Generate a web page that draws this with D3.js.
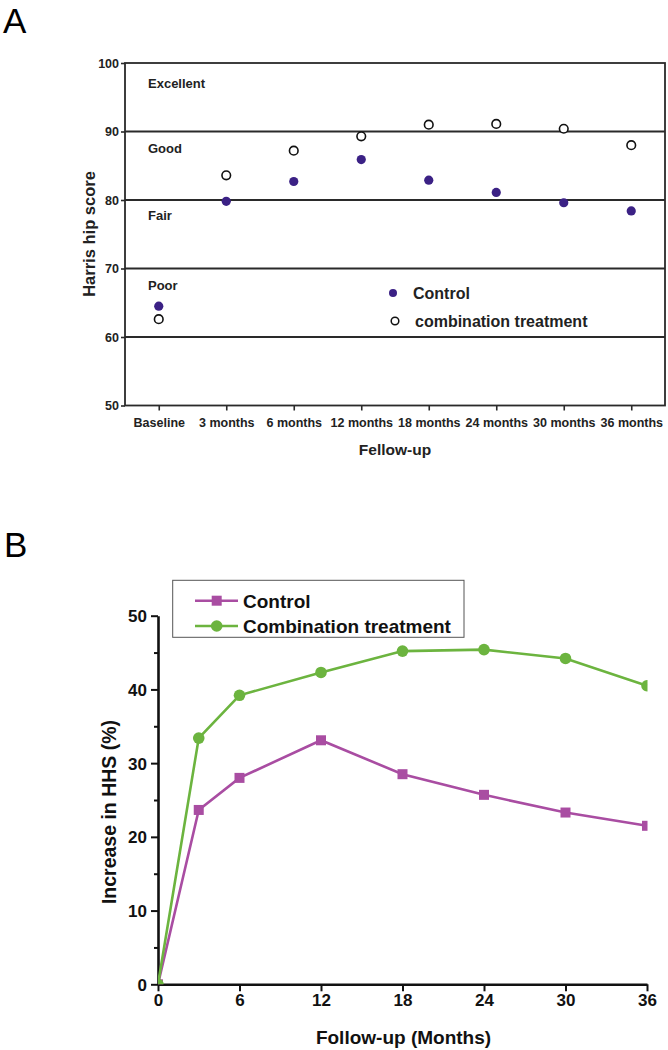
<!DOCTYPE html>
<html><head><meta charset="utf-8">
<script src="https://cdn.jsdelivr.net/npm/d3@7"></script>
<style>body{margin:0;background:#fff}svg{display:block;font-family:"Liberation Sans",Arial,sans-serif}</style>
</head><body><svg id="c" width="668" height="1050"></svg>
<script>
// ---------- Panel A data ----------
const catsA = ["Baseline","3 months","6 months","12 months","18 months","24 months","30 months","36 months"];
const controlA = [64.5,79.8,82.7,85.9,82.9,81.1,79.6,78.4];
const comboA = [62.6,83.6,87.2,89.3,91.0,91.1,90.4,88.0];
const yTicksA = [50,60,70,80,90,100];
const bandLinesA = [60,70,80,90];
const bandLabelsA = [{t:"Excellent",v:97.0},{t:"Good",v:87.5},{t:"Fair",v:77.8},{t:"Poor",v:67.5}];
// ---------- Panel B data ----------
const monthsB = [0,3,6,12,18,24,30,36];
const controlB = [0,23.65,28.0,33.1,28.5,25.7,23.3,21.5];
const comboB = [0,33.4,39.2,42.3,45.2,45.4,44.2,40.5];
const xTicksB = [0,6,12,18,24,30,36];
const yTicksB = [0,10,20,30,40,50];
const yMinorB = [5,15,25,35,45];

const svg = d3.select("#c");
const purple = "#3b2185", magenta = "#a94da2", green = "#6cb43f";

// Panel letters
svg.append("text").attr("x",3).attr("y",33).attr("font-family","'Liberation Sans',Arial,sans-serif").attr("font-size",35).text("A");
svg.append("text").attr("x",4).attr("y",557).attr("font-family","'Liberation Sans',Arial,sans-serif").attr("font-size",35).text("B");

// ---------- Panel A ----------
const xA = d3.scalePoint().domain(catsA).range([125,665]).padding(0.5);
const yA = d3.scaleLinear().domain([50,100]).range([405.5,63]);
const gA = svg.append("g");
gA.selectAll("line.band").data(bandLinesA).join("line").attr("class","band")
  .attr("x1",125).attr("x2",665).attr("y1",d=>yA(d)).attr("y2",d=>yA(d))
  .attr("stroke","#2a2a2a").attr("stroke-width",1.8);
gA.append("rect").attr("x",125).attr("y",yA(100)).attr("width",540).attr("height",yA(50)-yA(100))
  .attr("fill","none").attr("stroke","#2a2a2a").attr("stroke-width",1.8);
const axYA = gA.append("g").attr("transform","translate(125,0)")
  .call(d3.axisLeft(yA).tickValues(yTicksA).tickSize(4).tickSizeOuter(0).tickPadding(2));
const axXA = gA.append("g").attr("transform",`translate(0,${yA(50)})`)
  .call(d3.axisBottom(xA).tickSize(5).tickSizeOuter(0).tickPadding(8));
[axYA,axXA].forEach(a=>{
  a.select(".domain").remove();
  a.selectAll(".tick line").attr("stroke","#2a2a2a").attr("stroke-width",1.6);
  a.selectAll("text").attr("font-size",12.5).attr("font-weight","bold").attr("fill","#222").attr("font-family","'Liberation Sans',Arial,sans-serif");
});
axYA.selectAll("text").attr("dy","0.35em");
gA.selectAll("text.bl").data(bandLabelsA).join("text").attr("class","bl")
  .attr("x",148).attr("y",d=>yA(d.v)).attr("dy","0.35em")
  .attr("font-size",13).attr("font-weight","bold").attr("fill","#222").text(d=>d.t);
gA.selectAll("circle.ctl").data(controlA).join("circle").attr("class","ctl")
  .attr("cx",(d,i)=>xA(catsA[i])).attr("cy",d=>yA(d)).attr("r",4.6).attr("fill",purple);
gA.selectAll("circle.cmb").data(comboA).join("circle").attr("class","cmb")
  .attr("cx",(d,i)=>xA(catsA[i])).attr("cy",d=>yA(d)).attr("r",4.3).attr("fill","#fff").attr("stroke","#111").attr("stroke-width",1.6);
gA.append("circle").attr("cx",393).attr("cy",293).attr("r",4).attr("fill",purple);
gA.append("text").attr("x",413).attr("y",293).attr("dy","0.35em").attr("font-size",16).attr("font-weight","bold").attr("fill","#222").text("Control");
gA.append("circle").attr("cx",395).attr("cy",321).attr("r",3.8).attr("fill","#fff").attr("stroke","#111").attr("stroke-width",1.5);
gA.append("text").attr("x",415).attr("y",321).attr("dy","0.35em").attr("font-size",16).attr("font-weight","bold").attr("fill","#222").text("combination treatment");
gA.append("text").attr("x",395).attr("y",455).attr("text-anchor","middle").attr("font-size",15.5).attr("font-weight","bold").attr("fill","#222").text("Fellow-up");
gA.append("text").attr("transform","translate(95,234) rotate(-90)").attr("text-anchor","middle").attr("font-size",16.5).attr("font-weight","bold").attr("fill","#222").text("Harris hip score");

// ---------- Panel B ----------
const xB = d3.scaleLinear().domain([0,36]).range([158,647]);
const yB = d3.scaleLinear().domain([0,50]).range([984.3,615.7]);
const gB = svg.append("g");
svg.append("clipPath").attr("id","clipB").append("rect").attr("x",158).attr("y",590).attr("width",647.5-158).attr("height",984.3-590);
const axYB = gB.append("g").attr("transform","translate(158,0)")
  .call(d3.axisLeft(yB).tickValues(yTicksB).tickSize(7).tickSizeOuter(0).tickPadding(4));
const axXB = gB.append("g").attr("transform",`translate(0,${yB(0)})`)
  .call(d3.axisBottom(xB).tickValues(xTicksB).tickSize(7).tickSizeOuter(0).tickPadding(3));
gB.append("g").attr("transform","translate(158,0)")
  .call(d3.axisLeft(yB).tickValues(yMinorB).tickSize(4).tickFormat(""))
  .call(g=>{g.select(".domain").remove();g.selectAll("line").attr("stroke","#111").attr("stroke-width",2);});
[axYB,axXB].forEach(a=>{
  a.select(".domain").attr("stroke","#111").attr("stroke-width",2.6);
  a.selectAll(".tick line").attr("stroke","#111").attr("stroke-width",2);
  a.selectAll("text").attr("font-size",17).attr("font-weight","bold").attr("fill","#111").attr("font-family","'Liberation Sans',Arial,sans-serif");
});
axYB.selectAll("text").attr("dy","0.35em");
const plotB = gB.append("g").attr("clip-path","url(#clipB)");
const line = d3.line().x((d,i)=>xB(monthsB[i])).y(d=>yB(d));
plotB.append("path").datum(controlB).attr("d",line).attr("fill","none").attr("stroke",magenta).attr("stroke-width",2.6);
plotB.append("path").datum(comboB).attr("d",line).attr("fill","none").attr("stroke",green).attr("stroke-width",2.6);
plotB.selectAll("rect.sq").data(controlB).join("rect").attr("class","sq")
  .attr("x",(d,i)=>xB(monthsB[i])-5).attr("y",d=>yB(d)-5).attr("width",10).attr("height",10).attr("fill",magenta);
plotB.selectAll("circle.gc").data(comboB).join("circle").attr("class","gc")
  .attr("cx",(d,i)=>xB(monthsB[i])).attr("cy",d=>yB(d)).attr("r",5.8).attr("fill",green);
gB.append("rect").attr("x",172.7).attr("y",580.3).attr("width",464-172.7).attr("height",57).attr("fill","#fff").attr("stroke","#555").attr("stroke-width",1);
gB.append("line").attr("x1",195).attr("x2",238).attr("y1",600.7).attr("y2",600.7).attr("stroke",magenta).attr("stroke-width",2.6);
gB.append("rect").attr("x",216.7-5).attr("y",600.7-5).attr("width",10).attr("height",10).attr("fill",magenta);
gB.append("text").attr("x",243).attr("y",600.7).attr("dy","0.36em").attr("font-size",19).attr("font-weight","bold").attr("fill","#111").text("Control");
gB.append("line").attr("x1",195).attr("x2",238).attr("y1",626).attr("y2",626).attr("stroke",green).attr("stroke-width",2.6);
gB.append("circle").attr("cx",216.7).attr("cy",626).attr("r",5.8).attr("fill",green);
gB.append("text").attr("x",243).attr("y",626).attr("dy","0.36em").attr("font-size",19).attr("font-weight","bold").attr("fill","#111").text("Combination treatment");
gB.append("text").attr("x",403.5).attr("y",1044).attr("text-anchor","middle").attr("font-size",19).attr("font-weight","bold").attr("fill","#111").text("Follow-up (Months)");
gB.append("text").attr("transform","translate(116,812) rotate(-90)").attr("text-anchor","middle").attr("font-size",19.5).attr("font-weight","bold").attr("fill","#111").text("Increase in HHS (%)");
</script></body></html>
